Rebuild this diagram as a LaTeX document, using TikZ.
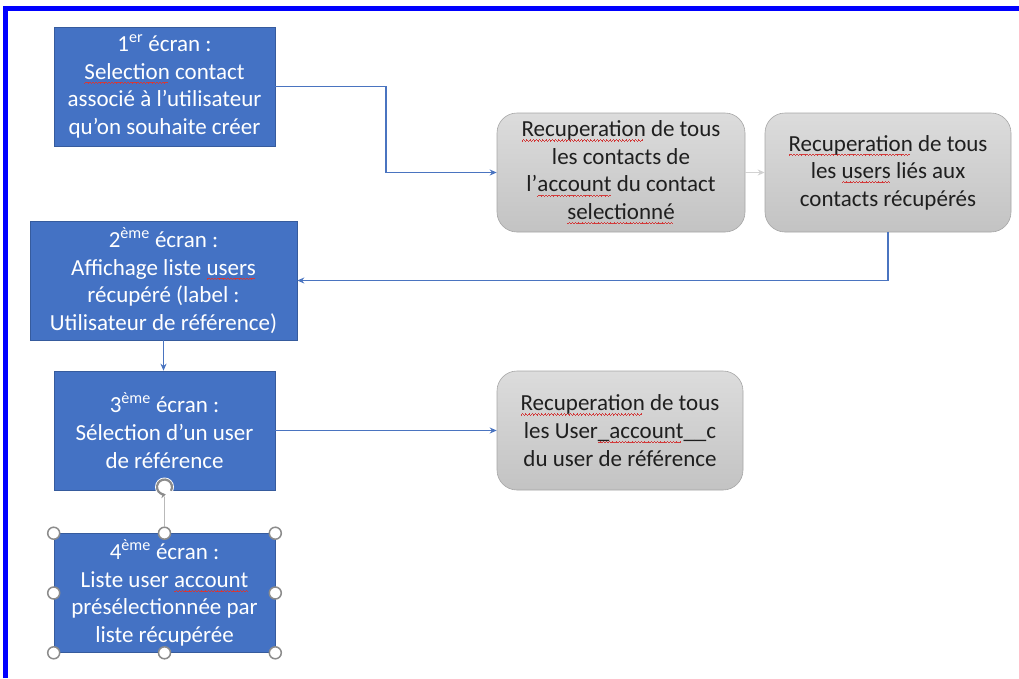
\documentclass[tikz,border=0pt]{standalone}
\usepackage{fontspec}
\setmainfont{Carlito}
\usetikzlibrary{arrows.meta}

\definecolor{screenblue}{HTML}{4472C4}
\definecolor{linkblue}{HTML}{4A74C0}
\definecolor{frameblue}{HTML}{0000FF}
\definecolor{procA}{HTML}{DCDCDC}
\definecolor{procB}{HTML}{C3C3C3}
\definecolor{squig}{HTML}{D23A3A}
\definecolor{handlegray}{HTML}{8C8C8C}

% red wavy underline (spell-check mark), built from small stepped rules
\newsavebox\sqbox
\newcommand\sqwave{\hbox{%
  \rule[-4.6pt]{0.8pt}{0.8pt}\rule[-4.0pt]{0.8pt}{0.8pt}%
  \rule[-3.4pt]{0.8pt}{0.8pt}\rule[-4.0pt]{0.8pt}{0.8pt}}}
\newcommand\sq[1]{\sbox\sqbox{#1}%
  \rlap{\hbox to \wd\sqbox{\color{squig}\leaders\sqwave\hfill}}\usebox\sqbox}

\tikzset{
  boxfont/.style={font=\fontsize{23}{27.6}\selectfont},
  screen/.style={boxfont, draw=screenblue!80!black, line width=0.6pt, fill=screenblue,
    text=white, minimum width=221pt, minimum height=119pt, align=center, inner sep=0pt},
  proc/.style={boxfont, rounded corners=20pt, top color=procA, bottom color=procB,
    draw=procB!85!black, line width=0.6pt, text=black!88, minimum width=248pt,
    minimum height=119pt, align=center, inner sep=0pt},
  link/.style={draw=linkblue, line width=1.3pt, -{Stealth[length=7pt,width=6pt]}},
  faint/.style={draw=gray!35, line width=1.3pt, -{Stealth[length=7pt,width=6pt]}},
  handle/.style={circle, draw=handlegray, line width=1.5pt, fill=white,
    minimum size=12pt, inner sep=0pt},
}

\begin{document}
\begin{tikzpicture}[x=1pt, y=-1pt]
  \useasboundingbox (0,0) rectangle (1019,678);

  % outer frame (top and left edges)
  \draw[frameblue, line width=5.5pt] (5.5,678) -- (5.5,8.5) -- (1019,8.5);

  % screens
  \node[screen] (s1) at (164.5,86.5) {1\textsuperscript{er} écran :\\ \sq{Selection} contact\\ associé à l’utilisateur\\ qu’on souhaite créer};
  \node[screen, minimum width=267pt] (s2) at (163.5,280.5) {2\textsuperscript{ème} écran :\\ Affichage liste \sq{users}\\ récupéré (label :\\ Utilisateur de référence)};
  \node[screen] (s3) at (164.5,430.5) {3\textsuperscript{ème} écran :\\ Sélection d’un user\\ de référence};
  \node[screen] (s4) at (164.5,593) {4\textsuperscript{ème} écran :\\ Liste user \sq{account}\\ présélectionnée par\\ liste récupérée};

  % processing steps
  \node[proc] (p1) at (621,172.5) {\sq{Recuperation} de tous\\ les contacts de\\ l’\sq{account} du contact\\ \sq{selectionné}};
  \node[proc, minimum width=246pt] (p2) at (888,172.5) {\sq{Recuperation} de tous\\ les \sq{users} liés aux\\ contacts récupérés};
  \node[proc, minimum width=246pt] (p3) at (620,430.5) {\sq{Recuperation} de tous\\ les User\sq{\_account}\_\_c\\ du user de référence};

  % connectors
  \coordinate (bend1) at (386,86.5);
  \draw[link] (s1.east) -- (bend1) |- (p1.west);
  \draw[faint] (p1.east) -- (p2.west);
  \draw[link] (p2.south) |- (s2.east);
  \draw[link] (s2.south) -- (s2.south |- s3.north);
  \draw[link] (s3.east) -- (p3.west);

  % selection frame of the fourth screen
  \node[handle] (hn)  at (s4.north) {};
  \node[handle] (hne) at (s4.north east) {};
  \node[handle] (hnw) at (s4.north west) {};
  \node[handle] (he)  at (s4.east) {};
  \node[handle] (hw)  at (s4.west) {};
  \node[handle] (hs)  at (s4.south) {};
  \node[handle] (hse) at (s4.south east) {};
  \node[handle] (hsw) at (s4.south west) {};

  % rotation handle above it
  \coordinate (rotc) at (164.5,487);
  \node[circle, minimum size=17pt, inner sep=0pt] (rot) at (rotc) {};
  \draw[gray!55, line width=1.2pt] (rot.south) -- (hn.north);
  \fill[white] (rotc) circle[radius=9.5pt];
  \draw[handlegray, line width=2.2pt, -{Stealth[length=5pt,width=6pt]}]
    ([shift={(-30:7.5pt)}]rotc) arc[start angle=-30, end angle=280, radius=7.5pt];
\end{tikzpicture}
\end{document}
